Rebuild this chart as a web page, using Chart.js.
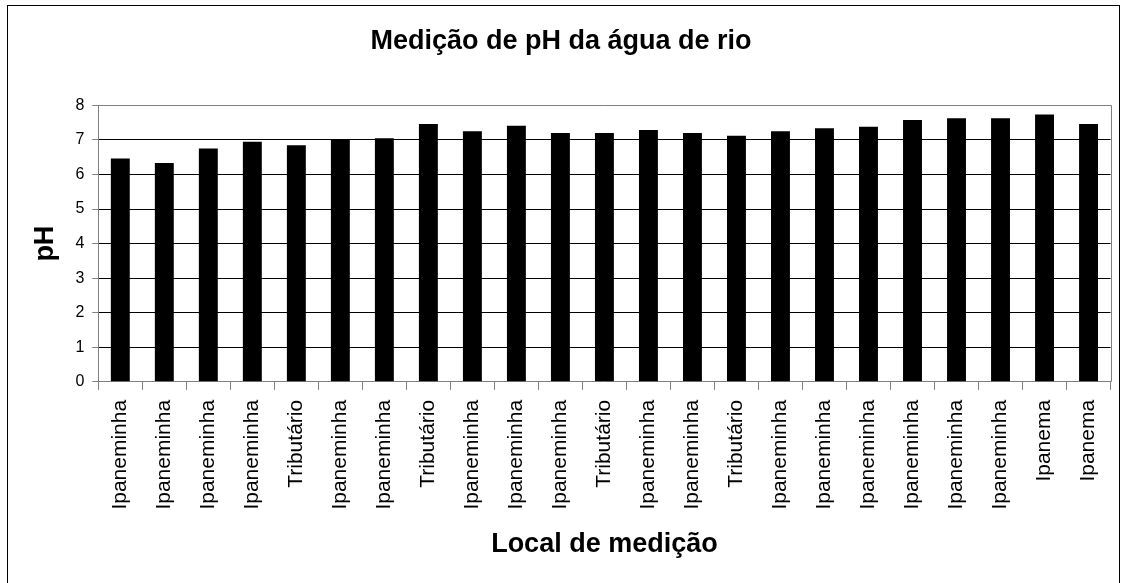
<!DOCTYPE html>
<html>
<head>
<meta charset="utf-8">
<script src="https://cdn.jsdelivr.net/npm/chart.js@4/dist/chart.umd.min.js"></script>
<style>
  html, body { margin: 0; padding: 0; background: #fff; }
  #wrap { width: 1124px; height: 583px; position: relative; }
</style>
</head>
<body>
<div id="wrap"><canvas id="chart"></canvas></div>
<script>
// local de medição (eixo x)
const locais = [
  "Ipaneminha", "Ipaneminha", "Ipaneminha", "Ipaneminha", "Tributário",
  "Ipaneminha", "Ipaneminha", "Tributário", "Ipaneminha", "Ipaneminha",
  "Ipaneminha", "Tributário", "Ipaneminha", "Ipaneminha", "Tributário",
  "Ipaneminha", "Ipaneminha", "Ipaneminha", "Ipaneminha", "Ipaneminha",
  "Ipaneminha", "Ipanema", "Ipanema"
];

// valores de pH
const phValores = [
  6.46, 6.33, 6.75, 6.95, 6.85, 7.0, 7.05, 7.46, 7.25, 7.41,
  7.2, 7.2, 7.29, 7.2, 7.12, 7.25, 7.34, 7.38, 7.58, 7.63,
  7.63, 7.74, 7.46
];

const yMin = 0;
const yMax = 8;
const yStep = 1;

const FONT = "'Liberation Sans', Arial, sans-serif";

// moldura externa e borda da área de plotagem
const framePlugin = {
  id: 'frame',
  beforeDraw(chart) {
    const ctx = chart.ctx;
    ctx.save();
    ctx.fillStyle = '#fff';
    ctx.fillRect(0, 0, chart.width, chart.height);
    ctx.strokeStyle = '#000';
    ctx.lineWidth = 1;
    ctx.strokeRect(7.5, 5.5, chart.width - 12, chart.height + 20);
    ctx.restore();
  },
  afterDatasetsDraw(chart) {
    const { ctx, chartArea } = chart;
    ctx.save();
    ctx.strokeStyle = '#808080';
    ctx.lineWidth = 1;
    ctx.beginPath();
    ctx.moveTo(chartArea.left, Math.round(chartArea.top) + 0.5);
    ctx.lineTo(Math.round(chartArea.right) + 0.5, Math.round(chartArea.top) + 0.5);
    ctx.lineTo(Math.round(chartArea.right) + 0.5, chartArea.bottom);
    ctx.stroke();
    ctx.restore();
  }
};

const ctx = document.getElementById('chart').getContext('2d');
new Chart(ctx, {
  type: 'bar',
  data: {
    labels: locais,
    datasets: [{
      label: 'pH',
      data: phValores,
      backgroundColor: '#000',
      borderWidth: 0,
      categoryPercentage: 1,
      barPercentage: 0.43
    }]
  },
  options: {
    responsive: true,
    maintainAspectRatio: false,
    animation: false,
    layout: { padding: { top: 10, left: 10, right: 12, bottom: 0 } },
    plugins: {
      legend: { display: false },
      tooltip: { enabled: false },
      title: {
        display: true,
        text: 'Medição de pH da água de rio',
        color: '#000',
        font: { family: FONT, size: 27, weight: 'bold' },
        padding: { top: 15, bottom: 48 }
      }
    },
    scales: {
      x: {
        offset: true,
        grid: {
          offset: true,
          drawOnChartArea: false,
          drawTicks: true,
          tickLength: 8,
          color: '#808080'
        },
        border: { color: '#808080', width: 1 },
        ticks: {
          color: '#000',
          font: { family: FONT, size: 21 },
          minRotation: 90,
          maxRotation: 90,
          autoSkip: false,
          padding: 10
        },
        title: {
          display: true,
          text: 'Local de medição',
          color: '#000',
          font: { family: FONT, size: 27, weight: 'bold' },
          padding: { top: 9, bottom: 22 }
        }
      },
      y: {
        min: yMin,
        max: yMax,
        grid: {
          color: (c) => (c.tick && (c.tick.value === yMin || c.tick.value === yMax)) ? 'rgba(0,0,0,0)' : '#000',
          tickColor: '#808080',
          tickLength: 6,
          lineWidth: 1
        },
        border: { color: '#808080', width: 1 },
        ticks: {
          stepSize: yStep,
          color: '#000',
          font: { family: FONT, size: 16 },
          padding: 8
        },
        title: {
          display: true,
          text: 'pH',
          color: '#000',
          font: { family: FONT, size: 27, weight: 'bold' },
          padding: { top: 19, bottom: 6 }
        }
      }
    }
  },
  plugins: [framePlugin]
});
</script>
</body>
</html>
